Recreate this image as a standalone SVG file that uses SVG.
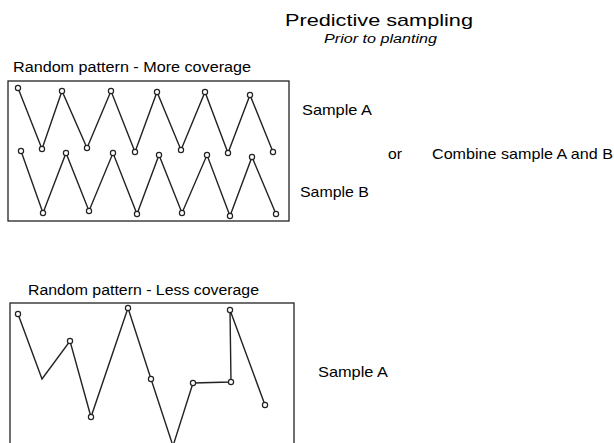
<svg xmlns="http://www.w3.org/2000/svg" width="614" height="443" viewBox="0 0 614 443">
<style>
text{font-family:"Liberation Sans",Arial,sans-serif;fill:#000}
.box{fill:none;stroke:#222;stroke-width:1.3}
.path{fill:none;stroke:#222;stroke-width:1.4;stroke-linejoin:miter}
.pt{fill:#fff;stroke:#222;stroke-width:1.2}
</style>
<rect width="614" height="443" fill="#fff"/>
<g id="title">
<text x="285" y="26" font-size="17" textLength="188" lengthAdjust="spacingAndGlyphs">Predictive sampling</text>
<text x="324" y="43" font-size="12.5" font-style="italic" textLength="113" lengthAdjust="spacingAndGlyphs">Prior to planting</text>
</g>
<g id="more-coverage">
<text x="13" y="72" font-size="14" textLength="238" lengthAdjust="spacingAndGlyphs">Random pattern  - More coverage</text>
<rect class="box" x="8" y="81" width="281" height="140"/>
</g>
<g id="connectors">
<polyline class="path" points="18,88 42,149 62,91 87,148 111,91 135,152 157,92 181,150 205,92 228,153 250,95 273,152"/>
<polyline class="path" points="21,151 43,213 66,153 89,211 113,153 137,214 159,155 182,213 207,155 230,216 252,157 276,214"/>
<polyline class="path" points="18,314 42,379 70,341 91,417 128,308 151,379 173,446 193,383 231,382 230,310 265,405"/>
</g>
<g id="sample-a-points">
<circle class="pt" cx="18" cy="88" r="2.6"/><circle class="pt" cx="42" cy="149" r="2.6"/><circle class="pt" cx="62" cy="91" r="2.6"/><circle class="pt" cx="87" cy="148" r="2.6"/><circle class="pt" cx="111" cy="91" r="2.6"/><circle class="pt" cx="135" cy="152" r="2.6"/><circle class="pt" cx="157" cy="92" r="2.6"/><circle class="pt" cx="181" cy="150" r="2.6"/><circle class="pt" cx="205" cy="92" r="2.6"/><circle class="pt" cx="228" cy="153" r="2.6"/><circle class="pt" cx="250" cy="95" r="2.6"/><circle class="pt" cx="273" cy="152" r="2.6"/>
</g>
<g id="sample-b-points">
<circle class="pt" cx="21" cy="151" r="2.6"/><circle class="pt" cx="43" cy="213" r="2.6"/><circle class="pt" cx="66" cy="153" r="2.6"/><circle class="pt" cx="89" cy="211" r="2.6"/><circle class="pt" cx="113" cy="153" r="2.6"/><circle class="pt" cx="137" cy="214" r="2.6"/><circle class="pt" cx="159" cy="155" r="2.6"/><circle class="pt" cx="182" cy="213" r="2.6"/><circle class="pt" cx="207" cy="155" r="2.6"/><circle class="pt" cx="230" cy="216" r="2.6"/><circle class="pt" cx="252" cy="157" r="2.6"/><circle class="pt" cx="276" cy="214" r="2.6"/>
</g>
<g id="labels-top">
<text x="302" y="115" font-size="15" textLength="70" lengthAdjust="spacingAndGlyphs">Sample A</text>
<text x="300" y="197" font-size="15" textLength="69" lengthAdjust="spacingAndGlyphs">Sample B</text>
<text x="388" y="159" font-size="15" textLength="14" lengthAdjust="spacingAndGlyphs">or</text>
<text x="432" y="159" font-size="15" textLength="181" lengthAdjust="spacingAndGlyphs">Combine sample A and B</text>
</g>
<g id="less-coverage">
<text x="28" y="295" font-size="14" textLength="231" lengthAdjust="spacingAndGlyphs">Random pattern - Less coverage</text>
<rect class="box" x="10" y="303" width="284" height="150"/>
</g>
<g id="less-points">
<circle class="pt" cx="18" cy="314" r="2.6"/><circle class="pt" cx="70" cy="341" r="2.6"/><circle class="pt" cx="91" cy="417" r="2.6"/><circle class="pt" cx="128" cy="308" r="2.6"/><circle class="pt" cx="151" cy="379" r="2.6"/><circle class="pt" cx="193" cy="383" r="2.6"/><circle class="pt" cx="231" cy="382" r="2.6"/><circle class="pt" cx="230" cy="310" r="2.6"/><circle class="pt" cx="265" cy="405" r="2.6"/>
</g>
<g id="label-bottom">
<text x="318" y="377" font-size="15" textLength="70" lengthAdjust="spacingAndGlyphs">Sample A</text>
</g>
</svg>
